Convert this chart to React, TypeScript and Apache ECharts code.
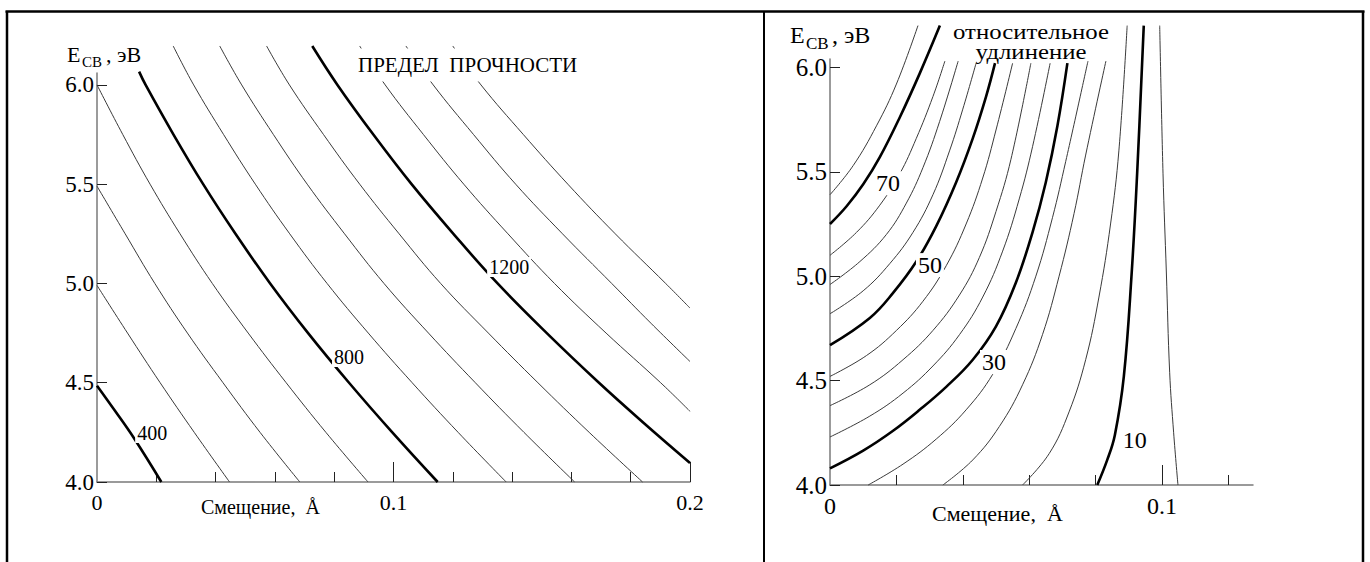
import React, { useEffect, useRef } from 'react';
import * as echarts from 'echarts';

const FONT = '"Liberation Serif", "Times New Roman", serif';

// ---------- Left panel: предел прочности (tensile strength) isolines ----------
const strengthLevels = [400, 500, 600, 700, 800, 900, 1000, 1100, 1200, 1300, 1400, 1500];
const strengthThick = [400, 800, 1200];
const s400 = [[0, 4.485], [0.006, 4.36], [0.0125, 4.22], [0.0217, 4.0]];
const s500 = [[0, 4.99], [0.0103, 4.75], [0.0213, 4.5], [0.0328, 4.25], [0.0447, 4.0]];
const s600 = [[0, 5.49], [0.0095, 5.25], [0.0195, 5.0], [0.0305, 4.75], [0.0425, 4.5], [0.055, 4.25], [0.0684, 4.0]];
const s700 = [[0, 6.0], [0.0087, 5.75], [0.0179, 5.5], [0.028, 5.25], [0.0389, 5.0], [0.051, 4.75], [0.0638, 4.5], [0.0772, 4.25], [0.0914, 4.0]];
const s800 = [[0.0142, 6.067], [0.0164, 6.0], [0.0258, 5.75], [0.0358, 5.5], [0.0467, 5.25], [0.0584, 5.0], [0.0712, 4.75], [0.085, 4.5], [0.0996, 4.25], [0.1149, 4.0]];
const s900 = [[0.0257, 6.196], [0.0326, 6.0], [0.0427, 5.75], [0.0534, 5.5], [0.065, 5.25], [0.0776, 5.0], [0.0915, 4.75], [0.1063, 4.5], [0.1218, 4.25], [0.138, 4.0]];
const s1000 = [[0.0414, 6.196], [0.0488, 6.0], [0.0595, 5.75], [0.0709, 5.5], [0.0835, 5.25], [0.0968, 5.0], [0.1118, 4.75], [0.1276, 4.5], [0.144, 4.25], [0.1611, 4.0]];
const s1100 = [[0.0572, 6.196], [0.0649, 6.0], [0.0764, 5.75], [0.0886, 5.5], [0.1019, 5.25], [0.1159, 5.0], [0.132, 4.75], [0.1487, 4.5], [0.166, 4.25], [0.184, 4.0]];
const s1200 = [[0.0726, 6.196], [0.0811, 6.0], [0.0932, 5.75], [0.1061, 5.5], [0.1202, 5.25], [0.1351, 5.0], [0.1517, 4.75], [0.1693, 4.5], [0.1842, 4.3], [0.2, 4.096]];
const s1300 = [[0.0886, 6.196], [0.0972, 6.0], [0.1101, 5.75], [0.1237, 5.5], [0.1386, 5.25], [0.1543, 5.0], [0.1717, 4.75], [0.1901, 4.5], [0.2, 4.356]];
const s1400 = [[0.1042, 6.196], [0.1134, 6.0], [0.127, 5.75], [0.1412, 5.5], [0.157, 5.25], [0.1736, 5.0], [0.1868, 4.8], [0.2, 4.607]];
const s1500 = [[0.12, 6.196], [0.1295, 6.0], [0.1438, 5.75], [0.1588, 5.5], [0.1748, 5.25], [0.1918, 5.0], [0.2, 4.876]];
const strengthCurves = [s400, s500, s600, s700, s800, s900, s1000, s1100, s1200, s1300, s1400, s1500];
const strengthLabelText = ['400', '800', '1200'];
const strengthLabelPos = [[0.0186, 4.247], [0.085, 4.63], [0.139, 5.083]];

// ---------- Right panel: относительное удлинение (elongation) isolines ----------
const elongLevels = [75, 70, 65, 60, 55, 50, 45, 40, 35, 30, 25, 20, 15, 10, 5];
const elongThick = [70, 50, 30, 10];
const e75 = [[0, 5.39], [0.007, 5.53], [0.014, 5.72], [0.02, 5.92], [0.0265, 6.2]];
const e70 = [[0, 5.25], [0.005, 5.335], [0.01, 5.44], [0.015, 5.57], [0.021, 5.76], [0.027, 5.97], [0.0331, 6.2]];
const e65 = [[0, 5.1], [0.008, 5.21], [0.015, 5.34], [0.021, 5.49], [0.026, 5.66], [0.031, 5.86], [0.0346, 6.03]];
const e60 = [[0, 4.96], [0.009, 5.07], [0.017, 5.2], [0.023, 5.35], [0.028, 5.52], [0.033, 5.74], [0.0386, 6.03]];
const e55 = [[0, 4.82], [0.01, 4.93], [0.018, 5.06], [0.025, 5.21], [0.031, 5.39], [0.036, 5.6], [0.04, 5.8], [0.044, 6.02]];
const e50 = [[0, 4.67], [0.012, 4.8], [0.019, 4.92], [0.026, 5.07], [0.032, 5.24], [0.038, 5.45], [0.043, 5.66], [0.047, 5.86], [0.0497, 6.02]];
const e45 = [[0, 4.52], [0.011, 4.62], [0.02, 4.74], [0.028, 4.88], [0.035, 5.05], [0.041, 5.25], [0.046, 5.47], [0.05, 5.7], [0.055, 6.02]];
const e40 = [[0, 4.38], [0.012, 4.48], [0.022, 4.6], [0.031, 4.74], [0.039, 4.91], [0.045, 5.09], [0.05, 5.31], [0.0545, 5.56], [0.0605, 6.02]];
const e35 = [[0, 4.23], [0.012, 4.33], [0.022, 4.44], [0.031, 4.57], [0.039, 4.72], [0.046, 4.9], [0.052, 5.12], [0.057, 5.37], [0.061, 5.62], [0.0663, 6.02]];
const e30 = [[0, 4.08], [0.01, 4.165], [0.019, 4.26], [0.027, 4.36], [0.035, 4.47], [0.043, 4.6], [0.05, 4.76], [0.056, 4.97], [0.061, 5.21], [0.065, 5.45], [0.0685, 5.72], [0.0715, 6.02]];
const e25 = [[0.0115, 4.0], [0.022, 4.1], [0.032, 4.22], [0.041, 4.36], [0.049, 4.53], [0.056, 4.75], [0.062, 5.0], [0.067, 5.28], [0.071, 5.55], [0.0777, 6.03]];
const e20 = [[0.034, 4.0], [0.043, 4.12], [0.051, 4.28], [0.058, 4.48], [0.064, 4.72], [0.069, 5.0], [0.0735, 5.3], [0.077, 5.58], [0.0831, 6.03]];
const e15 = [[0.058, 4.0], [0.066, 4.15], [0.072, 4.35], [0.077, 4.6], [0.081, 4.9], [0.0845, 5.25], [0.087, 5.6], [0.0895, 6.2]];
const e10 = [[0.0805, 4.0], [0.0835, 4.12], [0.0858, 4.24], [0.0885, 4.52], [0.0908, 5.0], [0.0925, 5.49], [0.0945, 6.2]];
const e5 = [[0.1048, 4.0], [0.1035, 4.25], [0.1023, 4.54], [0.1013, 5.02], [0.1003, 5.49], [0.0993, 6.2]];
const elongCurves = [e75, e70, e65, e60, e55, e50, e45, e40, e35, e30, e25, e20, e15, e10, e5];
const elongLabelText = ['70', '50', '30', '10'];
const elongLabelPos = [[0.0175, 5.445], [0.0301, 5.053], [0.0494, 4.589], [0.0918, 4.215]];

// ---------- Axis ticks ----------
const yTicks = [4.0, 4.5, 5.0, 5.5, 6.0];
const leftXMinorTicks = [0.02, 0.04, 0.06, 0.08, 0.12, 0.14, 0.16, 0.18];
const leftXMajorTicks = [0.1, 0.2];
const leftXLabels = [0, 0.1, 0.2];
const rightXMinorTicks = [0.02, 0.04, 0.06, 0.08, 0.12];
const rightXMajorTicks = [0.1];
const rightXLabels = [0, 0.1];

const xFmt = (v: number) => (v === 0 ? '0' : v.toFixed(1));

function curveSeries(curves: number[][][], levels: number[], thick: number[], xi: number, yi: number) {
  return curves.map((data, i) => {
    const isThick = thick.includes(levels[i]);
    return {
      type: 'line',
      name: String(levels[i]),
      xAxisIndex: xi,
      yAxisIndex: yi,
      data,
      smooth: 0.4,
      symbol: 'none',
      showSymbol: false,
      clip: false,
      silent: true,
      z: isThick ? 3 : 2,
      lineStyle: { color: isThick ? '#000' : '#3a3a3a', width: isThick ? 2.6 : 1 },
    };
  });
}

function labelSeries(texts: string[], pos: number[][], xi: number, yi: number, size: number) {
  return {
    type: 'scatter',
    xAxisIndex: xi,
    yAxisIndex: yi,
    symbol: 'circle',
    symbolSize: 0,
    silent: true,
    z: 6,
    itemStyle: { color: 'rgba(0,0,0,0)', opacity: 1 },
    data: pos.map((p, i) => [p[0], p[1], texts[i]]),
    label: {
      show: true,
      position: 'inside',
      formatter: (p: any) => p.value[2],
      fontFamily: FONT,
      fontSize: size,
      color: '#000',
      opacity: 1,
      textBorderWidth: 0,
      backgroundColor: '#fff',
      padding: [0, 2],
    },
  };
}

function xAxes(grid: number, max: number, minor: number[], major: number[], labels: number[], fs: number) {
  return [
    {
      type: 'value', gridIndex: grid, min: 0, max, position: 'bottom',
      axisLine: { show: true, lineStyle: { color: '#7a7a7a', width: 1.5 } },
      axisTick: { show: true, inside: true, length: 10, customValues: minor, lineStyle: { color: '#222', width: 1 } },
      axisLabel: { show: true, customValues: labels, formatter: xFmt, margin: 9, fontFamily: FONT, fontSize: fs, color: '#000' },
      splitLine: { show: false },
    },
    {
      type: 'value', gridIndex: grid, min: 0, max, position: 'bottom',
      axisLine: { show: false },
      axisTick: { show: true, inside: true, length: 20, customValues: major, lineStyle: { color: '#222', width: 1 } },
      axisLabel: { show: false },
      splitLine: { show: false },
    },
  ];
}

function yAxis(grid: number, max: number, fs: number) {
  return {
    type: 'value', gridIndex: grid, min: 4, max,
    axisLine: { show: true, lineStyle: { color: '#7a7a7a', width: 1.5 } },
    axisTick: { show: true, inside: true, length: 10, customValues: yTicks, lineStyle: { color: '#222', width: 1 } },
    axisLabel: { show: true, customValues: yTicks, formatter: (v: number) => v.toFixed(1), margin: 3, fontFamily: FONT, fontSize: fs, color: '#000' },
    splitLine: { show: false },
  };
}

function txt(x: number, y: number, text: string, size: number, extra: any = {}, el: any = {}) {
  return {
    type: 'text', x, y, z: 20, silent: true, ...el,
    style: { text, fill: '#000', font: `${size}px ${FONT}`, align: 'left', verticalAlign: 'middle', ...extra },
  };
}

function line(x1: number, y1: number, x2: number, y2: number, w: number) {
  return { type: 'line', silent: true, z: 30, shape: { x1, y1, x2, y2 }, style: { stroke: '#000', lineWidth: w } };
}

export default function App() {
  const ref = useRef<HTMLDivElement>(null);
  useEffect(() => {
    if (!ref.current) return;
    const chart = echarts.init(ref.current, null, { renderer: 'svg' });
    const option: any = {
      animation: false,
      backgroundColor: '#fff',
      grid: [
        { left: 97, right: 680, top: 73, bottom: 80 },
        { left: 830, right: 117, top: 59, bottom: 77 },
      ],
      xAxis: [
        ...xAxes(0, 0.2, leftXMinorTicks, leftXMajorTicks, leftXLabels, 22),
        ...xAxes(1, 0.1274, rightXMinorTicks, rightXMajorTicks, rightXLabels, 24),
      ],
      yAxis: [yAxis(0, 6.06, 23), yAxis(1, 6.04, 25)],
      series: [
        ...curveSeries(strengthCurves, strengthLevels, strengthThick, 0, 0),
        labelSeries(strengthLabelText, strengthLabelPos, 0, 0, 20),
        ...curveSeries(elongCurves, elongLevels, elongThick, 2, 1),
        labelSeries(elongLabelText, elongLabelPos, 2, 1, 24),
      ],
      graphic: [
        // table borders
        line(5.5, 11.5, 1364.5, 11.5, 2.5),
        line(7, 11, 7, 562, 2.5),
        line(764, 11, 764, 562, 2),
        line(1363, 11, 1363, 562, 2.5),
        // left panel texts
        txt(67, 54, 'E', 22),
        txt(82, 62, 'СВ', 15),
        txt(106, 54, ', эВ', 22),
        txt(354, 65, 'ПРЕДЕЛ  ПРОЧНОСТИ', 21, { backgroundColor: '#fff', padding: [6, 4] }),
        txt(201, 507, 'Смещение,  Å', 20),
        // right panel texts
        txt(790, 35, 'E', 24),
        txt(806, 43, 'СВ', 17),
        txt(832, 35, ', эВ', 24),
        txt(1031, 32, 'относительное', 20, { align: 'center' }, { scaleX: 1.24 }),
        txt(1031, 52, 'удлинение', 20, { align: 'center' }, { scaleX: 1.24 }),
        txt(932, 513, 'Смещение,  Å', 22),
      ],
    };
    chart.setOption(option);
    return () => chart.dispose();
  }, []);
  return (
    <div
      ref={ref}
      style={{ position: 'fixed', left: 0, top: 0, width: 1370, height: 562, background: '#fff' }}
    />
  );
}
